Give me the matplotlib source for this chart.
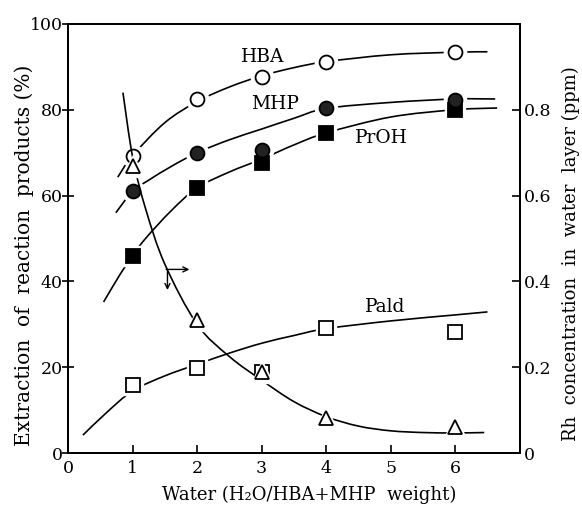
import numpy as np
import matplotlib
matplotlib.use("Agg")
import matplotlib.pyplot as plt
from matplotlib.path import Path
from matplotlib.patches import PathPatch

plt.rcParams['font.family'] = ['DejaVu Serif']

# ---- data ----
water = [1, 2, 3, 4, 6]
hba = [69.3, 82.4, 87.6, 91.1, 93.4]
mhp = [61.0, 70.0, 70.6, 80.4, 82.3]
proh = [46.0, 61.8, 67.6, 74.6, 80.0]
pald = [15.9, 19.8, 18.9, 29.1, 28.2]
rh = [0.67, 0.31, 0.19, 0.083, 0.06]

# hand-drawn trend curves
hba_cx = [0.77, 1.0, 1.5, 2.0, 2.5, 3.0, 3.5, 4.0, 5.0, 6.0, 6.5]
hba_cy = [64.3, 69.3, 77.0, 81.9, 85.3, 87.9, 89.8, 91.2, 92.8, 93.4, 93.5]
mhp_cx = [0.74, 1.0, 1.25, 1.6, 2.0, 2.5, 3.0, 3.5, 4.0, 5.0, 6.0, 6.62]
mhp_cy = [56.0, 61.0, 63.6, 66.8, 70.0, 73.0, 75.5, 78.0, 80.3, 81.7, 82.5, 82.5]
proh_cx = [0.55, 0.8, 1.0, 1.2, 1.6, 2.0, 2.5, 3.0, 3.5, 4.0, 5.0, 6.0, 6.65]
proh_cy = [35.2, 41.5, 46.0, 50.0, 56.5, 61.8, 65.5, 68.5, 71.8, 74.6, 78.3, 80.0, 80.4]
pald_cx = [0.23, 0.6, 1.0, 1.5, 2.0, 2.5, 3.0, 3.5, 4.0, 5.0, 6.0, 6.5]
pald_cy = [4.2, 9.5, 14.5, 18.0, 20.7, 23.3, 25.6, 27.4, 29.0, 30.8, 32.2, 32.9]
rh_cx = [0.85, 1.0, 1.2, 1.5, 2.0, 2.5, 3.0, 3.5, 4.0, 4.5, 5.0, 5.5, 6.0, 6.45]
rh_cy = [0.84, 0.69, 0.57, 0.44, 0.30, 0.225, 0.17, 0.12, 0.085, 0.063, 0.052, 0.048, 0.047, 0.048]

xticks = [0, 1, 2, 3, 4, 5, 6]
yticks = [0, 20, 40, 60, 80, 100]
rticks = [0, 0.2, 0.4, 0.6, 0.8]
rtick_labels = ['0', '0.2', '0.4', '0.6', '0.8']

LW = 1.2


def smooth_curve(ax, xs, ys, **kw):
    P = np.column_stack([xs, ys]).astype(float)
    n = len(P)
    verts = [P[0]]
    codes = [Path.MOVETO]
    for i in range(n - 1):
        p0 = P[i - 1] if i > 0 else P[i]
        p1 = P[i]
        p2 = P[i + 1]
        p3 = P[i + 2] if i + 2 < n else P[i + 1]
        c1 = p1 + (p2 - p0) / 6.0
        c2 = p2 - (p3 - p1) / 6.0
        verts += [c1, c2, p2]
        codes += [Path.CURVE4] * 3
    patch = PathPatch(Path(verts, codes), facecolor='none', edgecolor='black',
                      lw=LW, zorder=2, **kw)
    ax.add_patch(patch)


fig = plt.figure(figsize=(5.82, 5.08), dpi=100)
ax = fig.add_axes([0.117, 0.108, 0.776, 0.845])
ax2 = ax.twinx()

ax.set_xlim(0, 7)
ax.set_ylim(0, 100)
ax2.set_ylim(0, 1.0)

for c in [(hba_cx, hba_cy), (mhp_cx, mhp_cy), (proh_cx, proh_cy), (pald_cx, pald_cy)]:
    smooth_curve(ax, *c)
smooth_curve(ax2, rh_cx, rh_cy)

# white halos to break lines at markers
ms = 10
halo = dict(linestyle='none', color='white', markeredgecolor='white', zorder=3)
ax.plot(water, hba, marker='o', ms=ms + 6, **halo)
ax.plot(water, mhp, marker='o', ms=ms + 6, **halo)
ax.plot(water, proh, marker='s', ms=ms + 5, **halo)
ax.plot(water, pald, marker='s', ms=ms + 5, **halo)
ax2.plot(water, rh, marker='^', ms=ms + 6, **halo)

ax.plot(water, hba, linestyle='none', marker='o', ms=ms, mfc='white', mec='black', mew=1.3, zorder=4)
ax.plot(water, proh, linestyle='none', marker='s', ms=ms - 0.5, mfc='black', mec='black', mew=1.3, zorder=4)
ax.plot(water, mhp, linestyle='none', marker='o', ms=ms, mfc='#222222', mec='black', mew=1.3, zorder=4)
ax.plot(water, pald, linestyle='none', marker='s', ms=ms, mfc='white', mec='black', mew=1.3, zorder=4)
ax2.plot(water, rh, linestyle='none', marker='^', ms=ms, mfc='white', mec='black', mew=1.3, zorder=5)

# curve labels
fs_lab = 13.5
ax.text(3.02, 92.3, 'HBA', fontsize=fs_lab, ha='center', va='center')
ax.text(3.2, 81.4, 'MHP', fontsize=fs_lab, ha='center', va='center')
ax.text(4.86, 73.4, 'PrOH', fontsize=fs_lab, ha='center', va='center')
ax.text(4.92, 34.0, 'Pald', fontsize=fs_lab, ha='center', va='center')

# arrows pointing to the right axis
ax.annotate('', xy=(1.88, 42.8), xytext=(1.52, 42.8),
            arrowprops=dict(arrowstyle='->', lw=1.0, color='black', shrinkA=0, shrinkB=0,
                            mutation_scale=9))
ax.annotate('', xy=(1.54, 38.0), xytext=(1.54, 42.8),
            arrowprops=dict(arrowstyle='->', lw=1.0, color='black', shrinkA=0, shrinkB=0,
                            mutation_scale=9))

# axes styling
for a in (ax, ax2):
    for s in a.spines.values():
        s.set_linewidth(1.4)

fs_tick = 12.5
ax.set_xticks(xticks)
ax.set_xticklabels([str(v) for v in xticks], fontsize=fs_tick)
ax.set_yticks(yticks)
ax.set_yticklabels([str(v) for v in yticks], fontsize=fs_tick)
ax.tick_params(axis='x', direction='in', length=6, width=1.2, pad=5)
ax.tick_params(axis='y', direction='inout', length=8, width=1.2, pad=0)
ax2.set_yticks(rticks)
ax2.set_yticklabels(rtick_labels, fontsize=fs_tick)
ax2.tick_params(axis='y', direction='in', length=6, width=1.2, pad=3)

ax.set_xlabel('Water (H\u2082O/HBA+MHP  weight)', fontsize=13)
ax.xaxis.set_label_coords(0.534, -0.076)
ax.set_ylabel('Extraction  of  reaction  products (%)', fontsize=14.5)
ax.yaxis.set_label_coords(-0.075, 0.46)
ax2.set_ylabel('Rh  concentration  in  water  layer (ppm)', fontsize=13)
ax2.yaxis.set_label_coords(1.094, 0.465)

fig.savefig('out.png', dpi=100)
